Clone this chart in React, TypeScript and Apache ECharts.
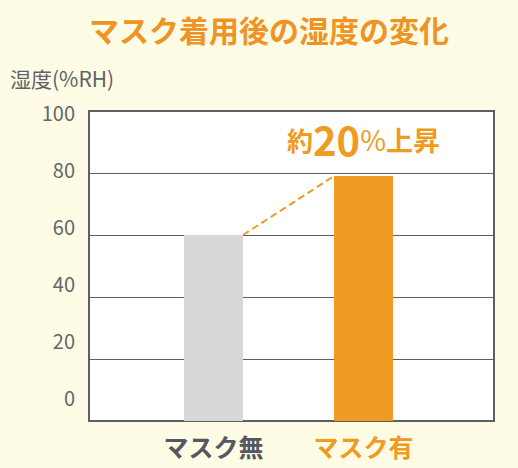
import React, { useEffect, useRef } from 'react';
import * as echarts from 'echarts';

// данные графика
const categories = ['マスク無', 'マスク有'];
const humidity = [60, 79];
const yTicks = [0, 20, 40, 60, 80, 100];
const barColors = ['#d8d8d8', '#ef9a21'];
const labelColors = ['#55585e', '#ef9a21'];

const ORANGE = '#ef9a21';
const FRAME = '#5c5f66';
const FONT = '"Noto Sans CJK JP", sans-serif';

// позиции категорий на оси X (value-ось, чтобы столбцы стояли не по центру)
const xPos = [1, 2];
const X_MIN = 0.17;
const X_MAX = 2.87;
const BAR_W = 59;
const PX_PER_UNIT = 405 / (X_MAX - X_MIN);
const halfBar = BAR_W / 2 / PX_PER_UNIT;

export default function App() {
  const chartRef = useRef<HTMLDivElement>(null);

  useEffect(() => {
    if (!chartRef.current) return;
    const chart = echarts.init(chartRef.current, null, { renderer: 'svg' });

    const option = {
      animation: false,
      backgroundColor: '#fffce6',
      textStyle: { fontFamily: FONT },
      title: [
        {
          text: 'マスク着用後の湿度の変化',
          left: 84,
          top: 9,
          textStyle: { color: '#ee9426', fontSize: 30, fontWeight: 'bold', fontFamily: FONT }
        },
        {
          text: '湿度(%RH)',
          left: 5,
          top: 62,
          textStyle: { color: '#5f6268', fontSize: 21, fontWeight: 'normal', fontFamily: FONT }
        }
      ],
      grid: {
        left: 89,
        right: 24,
        top: 111,
        bottom: 47,
        show: true,
        backgroundColor: '#ffffff',
        borderColor: FRAME,
        borderWidth: 2
      },
      xAxis: {
        type: 'value',
        min: X_MIN,
        max: X_MAX,
        axisLine: { show: false },
        axisTick: { show: false },
        splitLine: { show: false },
        axisLabel: {
          customValues: xPos,
          margin: 12,
          formatter: (v: number) => {
            const i = xPos.indexOf(v);
            return `{c${i}|${categories[i]}}`;
          },
          rich: {
            c0: { color: labelColors[0], fontSize: 25, fontWeight: 'bold', fontFamily: FONT },
            c1: { color: labelColors[1], fontSize: 25, fontWeight: 'bold', fontFamily: FONT }
          }
        }
      },
      yAxis: [
        {
          type: 'value',
          min: 0,
          max: 100,
          interval: 20,
          axisLine: { show: false },
          axisTick: { show: false },
          axisLabel: { show: false },
          splitLine: { lineStyle: { color: FRAME, width: 1 } }
        },
        {
          // подписи смещены относительно линий сетки, как в оригинале
          type: 'value',
          min: -8.35,
          max: 100.7,
          position: 'left',
          axisLine: { show: false },
          axisTick: { show: false },
          splitLine: { show: false },
          axisLabel: {
            customValues: yTicks,
            margin: 14,
            color: '#63666c',
            fontSize: 20,
            fontFamily: FONT
          }
        }
      ],
      series: [
        {
          type: 'bar',
          barWidth: BAR_W,
          yAxisIndex: 0,
          z: 3,
          data: humidity.map((v, i) => ({
            value: [xPos[i], v],
            itemStyle: { color: barColors[i] },
            label:
              i === 1
                ? {
                    show: true,
                    position: 'top',
                    distance: 17,
                    formatter: '{a|約}{b|20}{c|%}{d|上昇}',
                    rich: {
                      a: { color: ORANGE, fontSize: 26, fontWeight: 'bold', fontFamily: FONT },
                      b: { color: ORANGE, fontSize: 40, fontWeight: 'bold', fontFamily: FONT },
                      c: { color: ORANGE, fontSize: 28, fontWeight: 'normal', fontFamily: FONT },
                      d: { color: ORANGE, fontSize: 27, fontWeight: 'bold', fontFamily: FONT }
                    }
                  }
                : { show: false }
          }))
        },
        {
          type: 'line',
          yAxisIndex: 0,
          symbol: 'none',
          z: 4,
          lineStyle: { color: ORANGE, width: 2, type: [7, 4] },
          data: [
            [xPos[0] + halfBar, humidity[0]],
            [xPos[1] - halfBar, humidity[1]]
          ]
        }
      ]
    };

    chart.setOption(option as any);

    return () => {
      chart.dispose();
    };
  }, []);

  return (
    <div
      ref={chartRef}
      style={{ position: 'fixed', left: 0, top: 0, width: '518px', height: '468px' }}
    />
  );
}
